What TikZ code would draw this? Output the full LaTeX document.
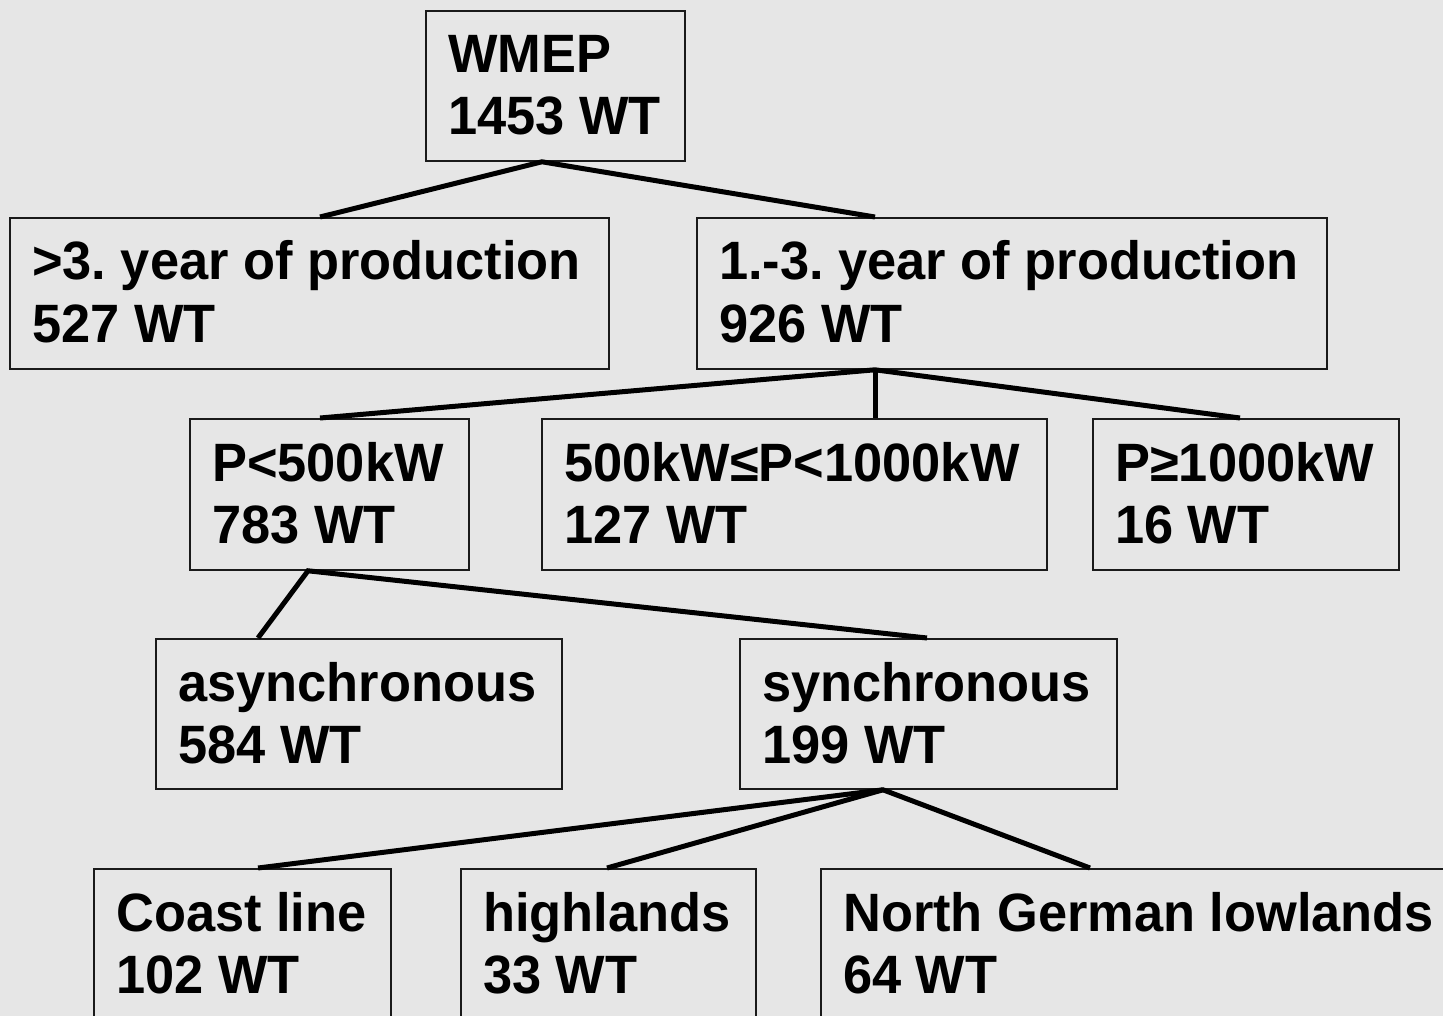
\documentclass[tikz,border=0pt]{standalone}
\usepackage{fontspec}
\setmainfont{Liberation Sans}[FakeStretch=0.97]
\definecolor{bg}{HTML}{E6E6E6}
\definecolor{frame}{HTML}{1A1A1A}
\frenchspacing
\begin{document}
\begin{tikzpicture}[x=1pt,y=-1pt,
  box/.style={draw=frame,line width=1.8pt,rectangle,inner sep=0pt,anchor=north west},
  lbl/.style={inner sep=0pt,anchor=base west,font=\fontsize{54}{63}\selectfont\bfseries},
  conn/.style={line width=5pt,black}]
\fill[bg] (0,0) rectangle (1443,1016);
\useasboundingbox (0,0) rectangle (1443,1016);
\clip (0,0) rectangle (1443,1016);
% boxes
\node[box,minimum width=259pt,minimum height=150pt] (wmep) at (425,10) {};
\node[box,minimum width=599pt,minimum height=151pt] (old) at (9,217) {};
\node[box,minimum width=630pt,minimum height=151pt] (new) at (696,217) {};
\node[box,minimum width=279pt,minimum height=151pt] (pa) at (189,418) {};
\node[box,minimum width=505pt,minimum height=151pt] (pb) at (541,418) {};
\node[box,minimum width=306pt,minimum height=151pt] (pc) at (1092,418) {};
\node[box,minimum width=406pt,minimum height=150pt] (asy) at (155,638) {};
\node[box,minimum width=377pt,minimum height=150pt] (syn) at (739,638) {};
\node[box,minimum width=297pt,minimum height=170pt] (coast) at (93,868) {};
\node[box,minimum width=295pt,minimum height=170pt] (high) at (460,868) {};
\node[box,minimum width=660pt,minimum height=170pt] (north) at (820,868) {};
% texts
\newcommand{\twolines}[3]{%
  \node[lbl] (#1t1) at ([xshift=23pt,yshift=-63pt]#1.north west) {#2};
  \node[lbl] (#1t2) at ([xshift=23pt,yshift=-125pt]#1.north west) {#3};}
\twolines{wmep}{WMEP}{1453 WT}
\twolines{old}{>3. year of production}{527 WT}
\twolines{new}{1.-3. year of production}{926 WT}
\twolines{pa}{P<500kW}{783 WT}
\twolines{pb}{500kW≤P<1000kW}{127 WT}
\twolines{pc}{P≥1000kW}{16 WT}
\twolines{asy}{asynchronous}{584 WT}
\twolines{syn}{synchronous}{199 WT}
\twolines{coast}{Coast line}{102 WT}
\twolines{high}{highlands}{33 WT}
\twolines{north}{North German lowlands}{64 WT}
% connector points
\coordinate (wmepB) at ([xshift=117pt]wmep.south west);
\coordinate (oldT) at ([xshift=311pt]old.north west);
\coordinate (newT) at ([xshift=179pt]new.north west);
\coordinate (newB) at ([xshift=179pt]new.south west);
\coordinate (paT) at ([xshift=131pt]pa.north west);
\coordinate (pbT) at ([xshift=334pt]pb.north west);
\coordinate (pcT) at ([xshift=148pt]pc.north west);
\coordinate (paB) at ([xshift=119pt]pa.south west);
\coordinate (asyT) at ([xshift=103pt]asy.north west);
\coordinate (synT) at ([xshift=188pt]syn.north west);
\coordinate (synB) at ([xshift=144pt]syn.south west);
\coordinate (coastT) at ([xshift=165pt]coast.north west);
\coordinate (highT) at ([xshift=147pt]high.north west);
\coordinate (northT) at ([xshift=270pt]north.north west);
% connectors
\draw[conn] (oldT) -- (wmepB) -- (newT);
\draw[conn] (paT) -- (newB) -- (pcT);
\draw[conn] (newB) -- (pbT);
\draw[conn] (asyT) -- (paB) -- (synT);
\draw[conn] (coastT) -- (synB) -- (northT);
\draw[conn] (synB) -- (highT);
\end{tikzpicture}
\end{document}
